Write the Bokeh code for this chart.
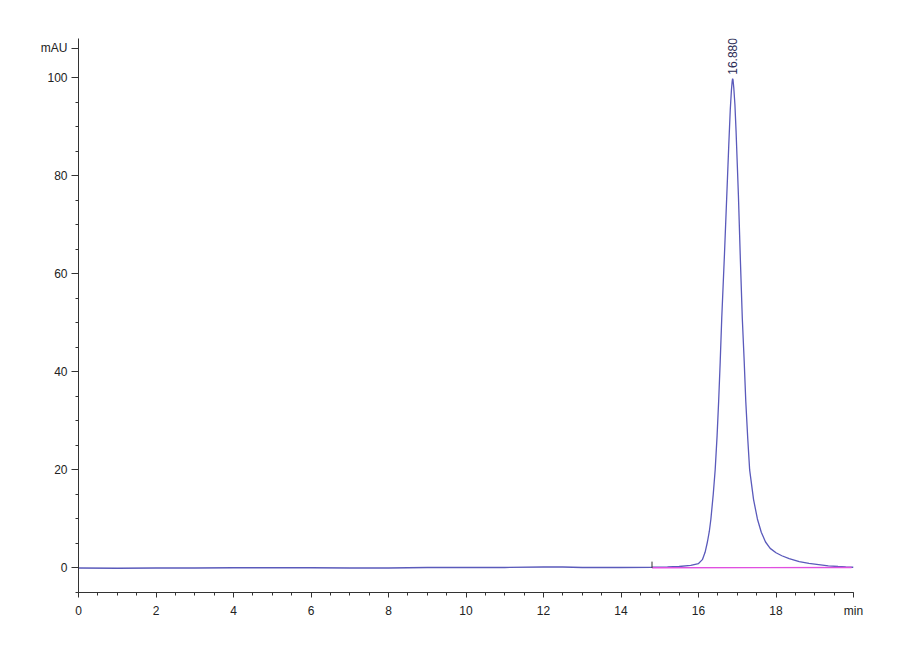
import math
from bokeh.plotting import figure
from bokeh.models import Range1d, FixedTicker
from bokeh.core.properties import value
from bokeh.embed import file_html
from bokeh.resources import INLINE

# Chromatogram trace (time in min, signal in mAU)
time_min = [0.0, 1.0, 2.0, 3.0, 4.0, 5.0, 6.0, 7.0, 8.0, 9.0, 10.0, 11.0, 12.0, 12.5,
            13.0, 14.0, 14.8, 15.2, 15.5, 15.8, 16.0, 16.1, 16.17, 16.23, 16.28, 16.32,
            16.38, 16.43, 16.48, 16.52, 16.56, 16.6, 16.67, 16.73, 16.78, 16.82, 16.85,
            16.87, 16.88, 16.89, 16.91, 16.94, 16.97, 17.0, 17.03, 17.08, 17.13, 17.18,
            17.22, 17.27, 17.32, 17.42, 17.52, 17.62, 17.73, 17.85, 18.0, 18.15, 18.34,
            18.6, 18.85, 19.1, 19.35, 19.6, 19.8, 20.0]
signal_mau = [0.0, -0.05, 0.0, 0.0, 0.05, 0.05, 0.05, 0.0, 0.0, 0.1, 0.1, 0.1, 0.2, 0.2,
              0.1, 0.1, 0.15, 0.2, 0.3, 0.55, 0.9, 1.7, 3.2, 5.3, 7.5, 10.0,
              15.0, 20.0, 27.0, 34.0, 42.0, 51.0, 64.0, 76.0, 86.0, 93.5, 97.5,
              99.3, 99.8, 99.6, 98.0, 94.5, 89.0, 82.5, 76.0, 63.0, 51.0, 42.0,
              34.0, 26.5, 20.0, 14.0, 10.0, 7.3, 5.3, 4.0, 3.1, 2.5, 1.9,
              1.3, 0.95, 0.7, 0.45, 0.3, 0.2, 0.15]

# Integration baseline and start marker
baseline_time = [14.8, 19.95]
baseline_mau = [0.05, 0.1]
marker_time = [14.8]
marker_low = [0.0]
marker_high = [1.3]

# Peak annotation
peak_time = [16.88]
peak_top = [100.6]
peak_labels = ["16.880"]

# Axes ticks and labels
x_major = [0, 2, 4, 6, 8, 10, 12, 14, 16, 18, 20]
x_minor = [i * 0.5 for i in range(41)]
x_unit_tick = 20
x_unit_label = "min"
y_major = [0, 20, 40, 60, 80, 100]
y_minor = [-5 + 5 * i for i in range(23)]
y_unit_tick = 106
y_unit_label = "mAU"

FONT = "'Liberation Sans Narrow', 'Liberation Sans', sans-serif"

p = figure(width=878, height=636, output_backend="svg", toolbar_location=None,
           x_range=Range1d(0, 20), y_range=Range1d(-5, 108),
           min_border_left=78, min_border_right=25, min_border_top=38,
           min_border_bottom=44)
p.outline_line_color = None
p.xgrid.visible = False
p.ygrid.visible = False
p.background_fill_color = "white"

p.line(time_min, signal_mau, line_color="#5a5abb", line_width=1.3)
p.line(baseline_time, baseline_mau, line_color="#e050e0", line_width=1.3)
p.segment(x0=marker_time, y0=marker_low, x1=marker_time, y1=marker_high,
          line_color="#333333", line_width=1)

p.text(x=peak_time, y=peak_top, text=peak_labels, angle=math.pi / 2,
       text_align="left", text_baseline="middle", text_font=value(FONT),
       text_font_size="12px", text_color="#2b2b55")

for ax in (p.xaxis[0], p.yaxis[0]):
    ax.axis_line_color = "#333333"
    ax.major_tick_line_color = "#333333"
    ax.minor_tick_line_color = "#333333"
    ax.major_tick_in = 0
    ax.minor_tick_out = 3
    ax.minor_tick_in = 0
    ax.major_label_text_font = FONT
    ax.major_label_text_font_size = "12px"
    ax.major_label_text_color = "#222222"
p.xaxis.major_tick_out = 5
p.yaxis.major_tick_out = 7
p.xaxis.major_label_standoff = 6
p.yaxis.major_label_standoff = 4

p.xaxis.ticker = FixedTicker(ticks=x_major, minor_ticks=x_minor)
p.yaxis.ticker = FixedTicker(ticks=y_major + [y_unit_tick],
                             minor_ticks=[t for t in y_minor if t != 105])
p.xaxis.major_label_overrides = {x_unit_tick: x_unit_label}
p.yaxis.major_label_overrides = {y_unit_tick: y_unit_label}

open("out.html", "w").write(file_html(p, INLINE))
